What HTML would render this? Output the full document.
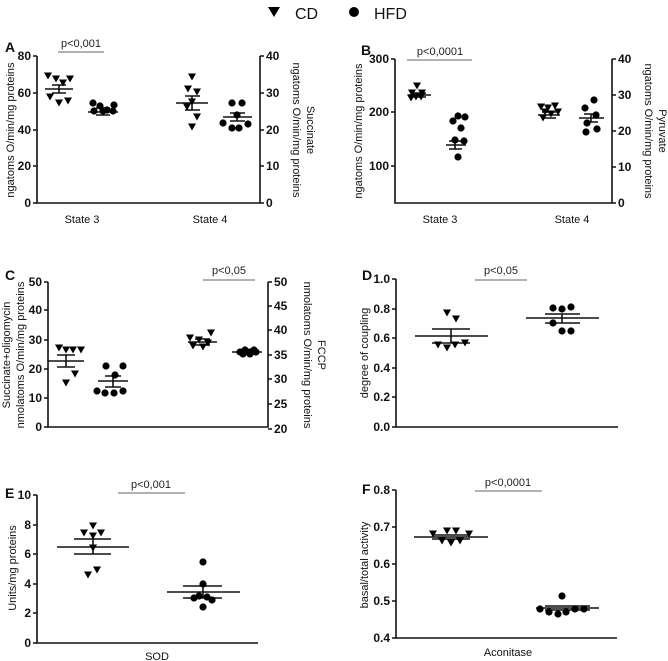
<!DOCTYPE html>
<html><head><meta charset="utf-8"><style>
html,body{margin:0;padding:0;background:#fff}
svg{display:block;font-family:"Liberation Sans",Arial,sans-serif}
.t{font-size:12px;font-weight:bold;fill:#111}
.l{font-size:11px;fill:#111}
.p{font-size:11px;fill:#222}
.pan{font-size:14px;font-weight:bold;fill:#111}
</style></head><body>
<svg id="s" width="668" height="661" viewBox="0 0 668 661">
<g stroke="#111" stroke-width="1.6" fill="none">
<path d="M37,56V203H260V56"/>
<path d="M33,56H37M33,93H37M33,130H37M33,166H37M33,203H37M260,56H264M260,93H264M260,130H264M260,166H264M260,203H264"/>
<path d="M395,59V203H612V59"/>
<path d="M391,59H395M391,112H395M391,166H395M612,59H616M612,95H616M612,131H616M612,167H616M612,203H616"/>
<path d="M48,282V427H268V282"/>
<path d="M44,282H48M44,310H48M44,340H48M44,369H48M44,398H48M44,427H48M268,282H272M268,306H272M268,330H272M268,355H272M268,379H272M268,404H272M268,429H272"/>
<path d="M396,279V427H618"/>
<path d="M392,279H396M392,309H396M392,338H396M392,368H396M392,397H396M392,427H396"/>
<path d="M37,495V643H258"/>
<path d="M33,495H37M33,525H37M33,554H37M33,584H37M33,613H37M33,643H37"/>
<path d="M396,490V638H617"/>
<path d="M392,490H396M392,527H396M392,564H396M392,601H396M392,638H396"/>
<path d="M45,89H73M52,85H66M52,93H66M59,85V93"/>
<path d="M88,112H118M96,108H110M96,115H110M103,108V115"/>
<path d="M176,103H208M185,96H200M185,110H200M192,96V110"/>
<path d="M223,117H252M230,113H245M230,121H245M237,113V121"/>
<path d="M408,95H431M413,93H426M413,97H426"/>
<path d="M446,145H466M449,141H462M449,149H462M455,141V149"/>
<path d="M538,115H560M542,112H556M542,118H556"/>
<path d="M579,118H604M584,114H598M584,122H598M591,114V122"/>
<path d="M48,361H84M57,355H75M57,367H75M66,355V367"/>
<path d="M98,381H128M105,376H121M105,387H121M113,376V387"/>
<path d="M188,342H217M195,339H210M195,345H210"/>
<path d="M232,352H262"/>
<path d="M415,336H488M432,329H470M432,343H470M451,329V343"/>
<path d="M526,318H599M545,314H580M545,323H580M562,314V323"/>
<path d="M57,547H129M74,539H111M74,554H111M93,539V554"/>
<path d="M167,592H240M183,586H222M183,598H222M203,586V598"/>
<path d="M414,537H488M432,535H470M432,539H470"/>
<path d="M536,608H599M545,606H590M545,610H590"/>
</g>
<g stroke="#999" stroke-width="1.5">
<path d="M58,52H104M407,60H472M203,280H255M475,280H527M118,493H185M475,491H542"/>
</g>
<g id="m" fill="#000"></g>
<polygon points="268,7 280,7 274,17" fill="#000"/>
<text x="295" y="19" font-size="16" fill="#111">CD</text>
<circle cx="354" cy="12" r="5" fill="#000"/>
<text x="374" y="19" font-size="16" fill="#111">HFD</text>
<text class="pan" x="5" y="52">A</text>
<text class="pan" x="361" y="55">B</text>
<text class="pan" x="5" y="280">C</text>
<text class="pan" x="362" y="280">D</text>
<text class="pan" x="5" y="498">E</text>
<text class="pan" x="362" y="494">F</text>
<g class="t" text-anchor="end">
<text x="31" y="60">80</text><text x="31" y="97">60</text><text x="31" y="134">40</text><text x="31" y="170">20</text><text x="31" y="207">0</text>
<text x="389" y="63">300</text><text x="389" y="116">200</text><text x="389" y="170">100</text>
<text x="42" y="286">50</text><text x="42" y="314">40</text><text x="42" y="344">30</text><text x="42" y="373">20</text><text x="42" y="402">10</text><text x="42" y="431">0</text>
<text x="390" y="283">1.0</text><text x="390" y="313">0.8</text><text x="390" y="342">0.6</text><text x="390" y="372">0.4</text><text x="390" y="401">0.2</text><text x="390" y="431">0.0</text>
<text x="31" y="499">10</text><text x="31" y="529">8</text><text x="31" y="558">6</text><text x="31" y="588">4</text><text x="31" y="617">2</text><text x="31" y="647">0</text>
<text x="390" y="494">0.8</text><text x="390" y="531">0.7</text><text x="390" y="568">0.6</text><text x="390" y="605">0.5</text><text x="390" y="642">0.4</text>
</g>
<g class="t">
<text x="266" y="60">40</text><text x="266" y="97">30</text><text x="266" y="134">20</text><text x="266" y="170">10</text><text x="266" y="207">0</text>
<text x="618" y="63">40</text><text x="618" y="99">30</text><text x="618" y="135">20</text><text x="618" y="171">10</text><text x="618" y="207">0</text>
<text x="274" y="286">50</text><text x="274" y="310">45</text><text x="274" y="334">40</text><text x="274" y="359">35</text><text x="274" y="383">30</text><text x="274" y="408">25</text><text x="274" y="433">20</text>
</g>
<g class="p" text-anchor="middle">
<text x="81" y="47">p&lt;0,001</text>
<text x="440" y="55">p&lt;0,0001</text>
<text x="229" y="274">p&lt;0,05</text>
<text x="501" y="274">p&lt;0,05</text>
<text x="151" y="488">p&lt;0,001</text>
<text x="508" y="486">p&lt;0,0001</text>
</g>
<g class="l" text-anchor="middle" font-size="12">
<text x="82" y="223">State 3</text><text x="210" y="223">State 4</text>
<text x="440" y="223">State 3</text><text x="572" y="223">State 4</text>
<text x="157" y="660">SOD</text><text x="508" y="656">Aconitase</text>
</g>
<g class="l" text-anchor="middle">
<text transform="translate(14,130) rotate(-90)">ngatoms O/min/mg proteins</text>
<text transform="translate(307,130) rotate(90)">Succinate</text>
<text transform="translate(293,130) rotate(90)">ngatoms O/min/mg proteins</text>
<text transform="translate(362,131) rotate(-90)">ngatoms O/min/mg proteins</text>
<text transform="translate(659,131) rotate(90)">Pyruvate</text>
<text transform="translate(645,131) rotate(90)">ngatoms O/min/mg proteins</text>
<text transform="translate(10,355) rotate(-90)">Succinate+oligomycin</text>
<text transform="translate(24,355) rotate(-90)">nmolatoms O/min/mg proteins</text>
<text transform="translate(318,355) rotate(90)">FCCP</text>
<text transform="translate(304,355) rotate(90)">nmolatoms O/min/mg proteins</text>
<text transform="translate(368,353) rotate(-90)">degree of coupling</text>
<text transform="translate(16,568) rotate(-90)">Units/mg proteins</text>
<text transform="translate(368,565) rotate(-90)">basal/total activity</text>
</g>
</svg>
<script>
var g=document.getElementById('m'),ns='http://www.w3.org/2000/svg';
function T(a){a.forEach(function(p){var e=document.createElementNS(ns,'polygon');var x=p[0],y=p[1];e.setAttribute('points',(x-4)+','+(y-3.5)+' '+(x+4)+','+(y-3.5)+' '+x+','+(y+3.5));g.appendChild(e);});}
function C(a){a.forEach(function(p){var e=document.createElementNS(ns,'circle');e.setAttribute('cx',p[0]);e.setAttribute('cy',p[1]);e.setAttribute('r',3.6);g.appendChild(e);});}
T([[48,76],[56,79],[63,83],[70,79],[50,97],[59,103],[68,101]]);
C([[93,103],[100,106],[107,110],[114,105],[94,111],[103,111],[113,111]]);
T([[192,77],[188,89],[197,92],[192,102],[187,107],[197,117],[192,127]]);
C([[232,103],[242,103],[237,115],[223,123],[232,128],[239,128],[248,124]]);
T([[417,86],[412,93],[422,93],[416,97],[411,98],[421,97]]);
C([[458,116],[465,117],[453,121],[461,128],[455,140],[464,141],[458,157]]);
T([[541,107],[548,108],[555,106],[558,112],[545,112],[551,114],[543,118]]);
C([[594,100],[585,108],[596,115],[587,123],[586,132],[597,129]]);
T([[59,348],[66,350],[73,350],[81,350],[75,374],[66,383]]);
C([[106,366],[123,366],[115,375],[97,391],[105,393],[114,393],[123,391]]);
T([[190,338],[199,340],[211,333],[193,346],[203,347],[208,343]]);
C([[240,352],[245,350],[250,352],[254,350],[243,354],[250,354],[256,352]]);
T([[447,313],[456,319],[438,345],[447,348],[455,345],[465,343]]);
C([[553,308],[562,309],[571,307],[553,323],[562,331],[571,331]]);
T([[84,533],[93,526],[101,533],[93,536],[93,548],[88,575],[97,570]]);
C([[203,562],[203,584],[194,598],[199,596],[207,597],[212,600],[203,607]]);
T([[433,534],[447,531],[456,531],[469,534],[442,541],[451,543],[460,541]]);
C([[562,596],[540,609],[549,612],[558,614],[566,612],[575,609],[584,609]]);
</script>
</body></html>
